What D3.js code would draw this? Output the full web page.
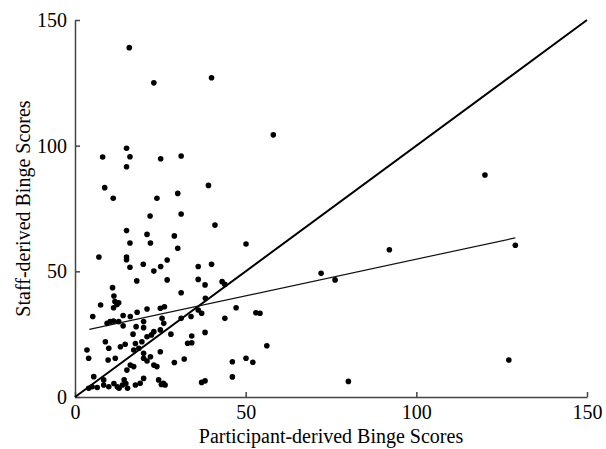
<!DOCTYPE html>
<html>
<head>
<meta charset="utf-8">
<script src="https://cdn.jsdelivr.net/npm/d3@7"></script>
<style>
	body { margin: 0; background: #fff; }
	text { font-family: "Liberation Serif", "Times New Roman", serif; }
</style>
</head>
<body>
<div id="chart"></div>
<script>
// participant-derived (x) and staff-derived (y) binge scores
let participant = [
	15.9, 23.1, 40.0, 58.1, 120.1, 50.1, 92.1, 129, 72.1, 76.2,
	53.0, 54.2, 56.2, 50.1, 52.1, 80.1, 127.1, 15.1, 8.1, 16.1,
	15.1, 25.1, 31.1, 8.7, 11.2, 39.1, 30.1, 24.0, 22.0, 31.1,
	41.0, 15.1, 21.1, 29.1, 16.1, 22.1, 30.1, 7.0, 15.1, 15.1,
	27.0, 20.0, 16.1, 25.1, 36.1, 40.0, 23.1, 27.0, 18.1, 11.0,
	11.4, 11.7, 12.8, 12.3, 11.3, 7.5, 5.2, 14.1, 16.2, 18.2,
	21.1, 25.0, 26.2, 25.5, 9.4, 10.3, 11.3, 12.8, 14.1, 17.9,
	20.1, 26.0, 36.1, 38.1, 43.1, 43.9, 31.1, 38.2, 36.1, 37.1,
	47.2, 31.1, 34.0, 43.9, 20.1, 23.1, 25.0, 17.0, 8.9, 3.5,
	4.0, 9.9, 13.3, 14.7, 17.7, 19.6, 21.1, 22.4, 17.2, 18.7,
	20.1, 11.8, 9.7, 16.2, 17.2, 15.2, 20.1, 21.1, 22.1, 25.0,
	23.1, 24.0, 5.5, 8.4, 8.4, 9.9, 11.4, 12.4, 12.9, 13.9,
	14.9, 15.4, 14.4, 17.7, 19.1, 20.1, 24.5, 25.3, 5.0, 4.0,
	28.1, 34.2, 38.1, 33.0, 34.2, 32.0, 29.1, 46.1, 46.1, 37.1,
	38.1, 25.9, 26.4, 6.5
];
let staff = [
	139, 125, 127, 104.3, 88.3, 60.9, 58.6, 60.4, 49.2, 46.6,
	33.5, 33.3, 20.4, 15.4, 13.8, 6.2, 14.7, 99.0, 95.5, 95.6,
	91.6, 94.8, 95.9, 83.3, 79.1, 84.2, 81.0, 79.1, 72.0, 72.8,
	68.4, 66.2, 64.7, 64.1, 61.3, 61.3, 59.2, 55.7, 55.7, 54.6,
	54.5, 52.8, 51.6, 51.9, 51.9, 52.8, 50.1, 46.6, 46.2, 43.5,
	40.2, 38.0, 37.5, 36.8, 35.5, 36.6, 32.0, 32.4, 32.0, 33.7,
	35.0, 35.3, 35.9, 31.3, 29.3, 30.0, 30.2, 30.0, 28.3, 28.0,
	30.0, 29.3, 46.8, 44.6, 45.9, 44.8, 41.5, 39.3, 34.6, 33.3,
	35.5, 31.3, 32.0, 31.3, 27.6, 26.0, 26.7, 25.0, 22.0, 18.7,
	15.4, 19.4, 20.0, 21.0, 21.3, 22.0, 24.0, 24.7, 18.7, 19.4,
	17.4, 15.4, 14.7, 12.7, 12.1, 10.7, 15.4, 14.3, 16.0, 18.0,
	12.7, 12.1, 8.1, 6.8, 4.8, 4.1, 5.4, 4.1, 3.5, 4.8,
	5.4, 3.5, 6.8, 4.8, 5.5, 7.4, 6.8, 5.0, 4.1, 3.5,
	25.0, 24.3, 25.7, 21.4, 21.6, 15.1, 13.7, 14.0, 8.0, 5.8,
	6.4, 5.5, 4.8, 3.8
];
// identity line and fitted regression line end points
let identityLine = [[0, 0], [150, 150]];
let fitLine = [[4.2, 26.9], [129, 63.3]];
let ticks = [0, 50, 100, 150];

let width = 606;
let height = 449;
let margin = ({top: 20, right: 19, bottom: 52, left: 75});

let data = participant.map((p, i) => ({x: p, y: staff[i]}));

const svg = d3.select("#chart")
	.append("svg")
	.attr("width", width)
	.attr("height", height);

let x = d3.scaleLinear()
	.domain([0, 150])
	.range([margin.left, width - margin.right]);

let y = d3.scaleLinear()
	.domain([0, 150])
	.range([height - margin.bottom, margin.top]);

let xAxis = g => g
	.attr("transform", `translate(0,${height - margin.bottom})`)
	.call(d3.axisBottom(x).tickValues(ticks).tickSizeInner(-5).tickSizeOuter(0).tickPadding(8))
	.call(g => g.selectAll("text").attr("font-size", 20).attr("font-family", null));

let yAxis = g => g
	.attr("transform", `translate(${margin.left},0)`)
	.call(d3.axisLeft(y).tickValues(ticks).tickSizeInner(-5).tickSizeOuter(0).tickPadding(8))
	.call(g => g.selectAll("text").attr("font-size", 20).attr("font-family", null));

svg.append("g")
	.call(xAxis)
	.call(g => g.selectAll("path, line").attr("stroke", "#444").attr("stroke-width", 1.5));

svg.append("g")
	.call(yAxis)
	.call(g => g.selectAll("path, line").attr("stroke", "#444").attr("stroke-width", 1.5));

let line = d3.line()
	.x(d => x(d[0]))
	.y(d => y(d[1]));

svg.append("path")
	.datum(identityLine)
	.attr("fill", "none")
	.attr("stroke", "#000")
	.attr("stroke-width", 2)
	.attr("d", line);

svg.append("path")
	.datum(fitLine)
	.attr("fill", "none")
	.attr("stroke", "#111")
	.attr("stroke-width", 1.2)
	.attr("d", line);

svg.append("g")
	.selectAll("circle")
	.data(data)
	.enter().append("circle")
		.attr("cx", d => x(d.x))
		.attr("cy", d => y(d.y))
		.attr("r", 2.8)
		.attr("fill", "#000");

svg.append("text")
	.attr("x", x(75))
	.attr("y", height - 6)
	.attr("text-anchor", "middle")
	.attr("font-size", 20)
	.text("Participant-derived Binge Scores");

svg.append("text")
	.attr("transform", `translate(30,${y(75)}) rotate(-90)`)
	.attr("text-anchor", "middle")
	.attr("font-size", 20)
	.text("Staff-derived Binge Scores");
</script>
</body>
</html>
